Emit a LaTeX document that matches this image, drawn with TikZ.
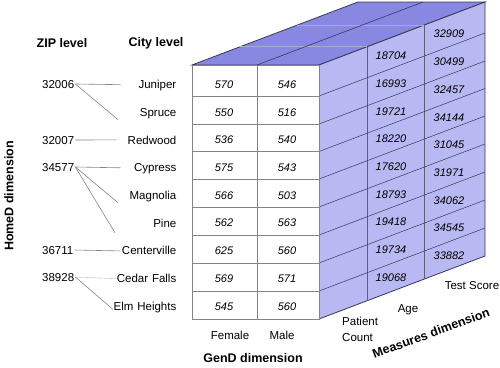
\documentclass[tikz,border=0pt]{standalone}
\usepackage{fontspec}
\setmainfont{Liberation Sans}
\usepackage{tikz}
\usetikzlibrary{calc,positioning}
\definecolor{topblue}{RGB}{136,136,226}
\definecolor{sideblue}{RGB}{184,184,242}
\definecolor{gridgray}{RGB}{130,130,130}
\definecolor{edgedark}{RGB}{55,55,85}
\definecolor{lightline}{RGB}{170,170,215}

\begin{document}
\begin{tikzpicture}[x=1pt,y=-1pt,
	lbl/.style={draw=none,fill=none,inner sep=1pt,text height=8.2pt,text depth=0pt,font=\fontsize{11.5}{16}\selectfont},
	hdr/.style={draw=none,fill=none,inner sep=1pt,font=\fontsize{12.5}{15}\selectfont\bfseries},
	val/.style={draw=none,fill=none,inner sep=1pt,text height=7.9pt,text depth=0pt,font=\fontsize{11}{13}\selectfont\itshape},
	zip/.style={lbl,anchor=west},
	city/.style={lbl,anchor=east,text width=66pt,align=right},
	link/.style={gridgray,line width=0.6pt,shorten >=-11.5pt}]
		\useasboundingbox (0,0) rectangle (500,367);
		
		% cube: top, side, front
		\draw[edgedark, line width=0.8pt, fill=topblue] (192,65) -- (319,65) -- (485,2) -- (358,2) -- cycle;
		\draw[edgedark, line width=0.8pt, fill=sideblue] (319,65) -- (485,2) -- (485,256) -- (319,319) -- cycle;
		\draw[lightline, line width=0.5pt] (240,46.7) -- (367,46.7);
		\draw[lightline, line width=0.5pt] (297.4,25) -- (424.4,25);
		\draw[edgedark, line width=0.6pt] (257,65) -- (423,2);
		\draw[edgedark!80, line width=0.7pt] (367,46.7) -- (367,300.7);
		\draw[edgedark!80, line width=0.7pt] (424.4,25) -- (424.4,279);
		\foreach \r in {96,124,151.5,179,207,235,263,291}
			\draw[edgedark, line width=0.5pt] (319,\r) -- (485,\r-63);
		\draw[gridgray, line width=0.8pt, fill=white] (192,65) rectangle (319,319);
		\draw[gridgray, line width=0.8pt] (257,65) -- (257,319);
		\foreach \r in {96,124,151.5,179,207,235,263,291}
			\draw[gridgray, line width=0.8pt] (192,\r) -- (319,\r);
		
		% cell values
		\node[val] (f1) at (224,84.5) {570};  \node[val] (m1) at (287,84.5) {546};  \node[val] (a1) at (391,55.7) {18704};  \node[val] (t1) at (449,34) {32909};
		\node[val] (f2) at (224,112.2) {550}; \node[val] (m2) at (287,112.2) {516}; \node[val] (a2) at (391,83.4) {16993};  \node[val] (t2) at (449,61.7) {30499};
		\node[val] (f3) at (224,139.9) {536}; \node[val] (m3) at (287,139.9) {540}; \node[val] (a3) at (391,111.1) {19721}; \node[val] (t3) at (449,89.4) {32457};
		\node[val] (f4) at (224,167.6) {575}; \node[val] (m4) at (287,167.6) {543}; \node[val] (a4) at (391,138.8) {18220}; \node[val] (t4) at (449,117.1) {34144};
		\node[val] (f5) at (224,195.3) {566}; \node[val] (m5) at (287,195.3) {503}; \node[val] (a5) at (391,166.5) {17620}; \node[val] (t5) at (449,144.8) {31045};
		\node[val] (f6) at (224,223) {562};   \node[val] (m6) at (287,223) {563};   \node[val] (a6) at (391,194.2) {18793}; \node[val] (t6) at (449,172.5) {31971};
		\node[val] (f7) at (224,250.7) {625}; \node[val] (m7) at (287,250.7) {560}; \node[val] (a7) at (391,221.9) {19418}; \node[val] (t7) at (449,200.2) {34062};
		\node[val] (f8) at (224,278.4) {569}; \node[val] (m8) at (287,278.4) {571}; \node[val] (a8) at (391,249.6) {19734}; \node[val] (t8) at (449,227.9) {34545};
		\node[val] (f9) at (224,306.1) {545}; \node[val] (m9) at (287,306.1) {560}; \node[val] (a9) at (391,277.3) {19068}; \node[val] (t9) at (449,255.6) {33882};
		
		% axis texts
		\node[hdr] (ziphead) at (62,43) {ZIP level};
		\node[hdr] (cityhead) at (156,43) {City level};
		\node[hdr, rotate=90] (homed) at (9,196) {HomeD dimension};
		\node[hdr] (gend) at (253,358) {GenD dimension};
		\node[hdr, rotate=20] (measures) at (431,333) {Measures dimension};
		\node[lbl] (female) at (230,335) {Female};
		\node[lbl] (male) at (282,335) {Male};
		\node[draw=none,fill=none,inner sep=1pt,anchor=west,align=left,font=\fontsize{11.5}{16}\selectfont] (pcount) at (341,329) {Patient\\Count};
		\node[lbl] (age) at (408,308) {Age};
		\node[lbl] (tscore) at (472,285) {Test Score};
		
		% home dimension
		\node[zip] (z1) at (41,84) {32006};
		\node[zip] (z2) at (41,140) {32007};
		\node[zip] (z3) at (41,167) {34577};
		\node[zip] (z4) at (41,250) {36711};
		\node[zip] (z5) at (41,277) {38928};
		\node[city] (juniper) at (177.5,84.5) {Juniper};
		\node[city] (spruce) at (177.5,112.2) {Spruce};
		\node[city] (redwood) at (177.5,139.9) {Redwood};
		\node[city] (cypress) at (177.5,167.6) {Cypress};
		\node[city] (magnolia) at (177.5,195.3) {Magnolia};
		\node[city] (pine) at (177.5,223) {Pine};
		\node[city] (centerville) at (177.5,250.7) {Centerville};
		\node[city] (cedar) at (177.5,278.4) {Cedar Falls};
		\node[city] (elm) at (177.5,306.1) {Elm Heights};
		
		\draw[link] (z1.east) -- (juniper.west);
		\draw[link] (z1.east) -- (spruce.west);
		\draw[link, shorten >=-7.5pt] (z2.east) -- (redwood.west);
		\draw[link] (z3.east) -- (cypress.west);
		\draw[link] (z3.east) -- (magnolia.west);
		\draw[link] (z3.east) -- (pine.west);
		\draw[link] (z4.east) -- (centerville.west);
		\draw[link, gridgray!40, shorten >=-7pt] (z5.east) -- (cedar.west);
		\draw[link, shorten >=-5pt] (z5.east) -- (elm.west);
		\end{tikzpicture}
\end{document}
